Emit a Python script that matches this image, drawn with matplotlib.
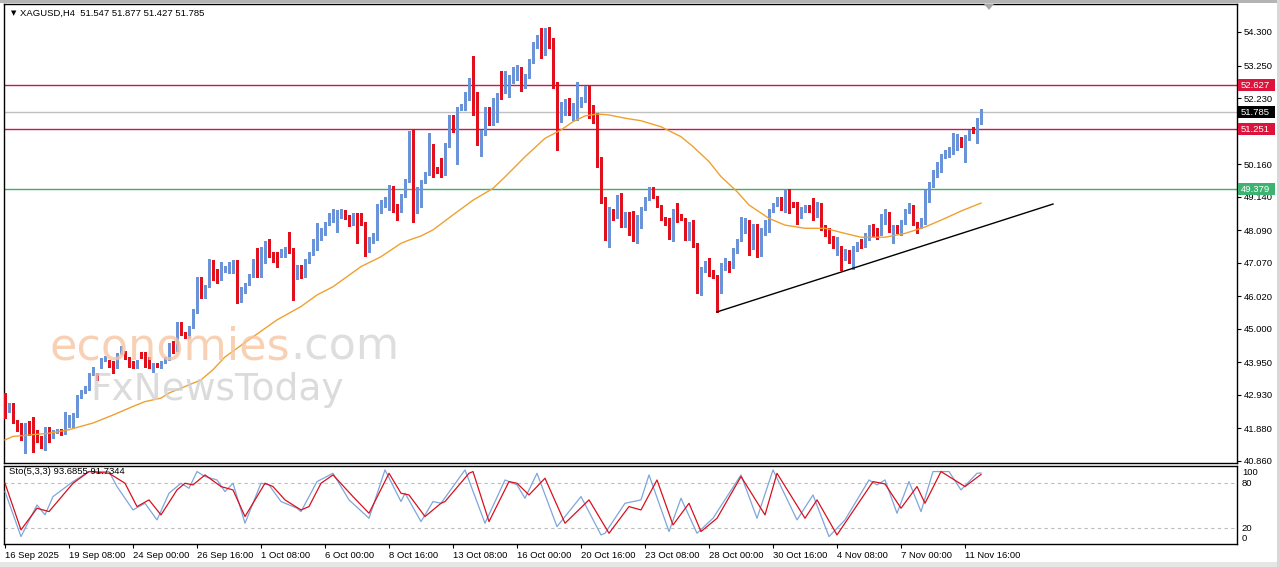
import matplotlib
matplotlib.use("Agg")
import matplotlib.pyplot as plt
from matplotlib.patches import Rectangle, Polygon
import matplotlib.transforms as mtransforms

# XAGUSD H4 candles (bar 0 = first visible bar)
opens = [42.93, 42.46, 42.62, 42.12, 41.99, 41.55, 42.05, 41.92, 41.73, 41.58,
         41.34, 41.89, 41.71, 41.78, 41.81, 41.75, 42.20, 42.25, 42.28, 42.88,
         43.07, 43.11, 43.61, 43.56, 43.80, 44.03, 44.00, 43.92, 43.80, 44.24,
         44.24, 44.10, 43.95, 43.79, 44.18, 44.13, 44.08, 43.82, 43.92, 43.82,
         43.95, 44.08, 44.50, 44.34, 45.18, 44.84, 44.76, 45.07, 45.59, 46.58,
         46.13, 46.32, 46.86, 46.84, 46.58, 46.82, 46.90, 47.03, 47.10, 45.88,
         46.13, 46.43, 46.63, 47.16, 46.98, 47.31, 47.60, 47.37, 47.35, 47.29,
         47.42, 47.47, 47.47, 46.58, 46.98, 46.90, 47.10, 47.35, 47.68, 47.81,
         47.97, 48.31, 48.49, 48.57, 48.60, 48.64, 48.54, 48.28, 48.60, 48.33,
         48.33, 47.60, 47.73, 47.81, 48.67, 48.93, 49.02, 49.43, 48.85, 48.69,
         49.16, 49.64, 50.00, 48.83, 49.24, 49.58, 49.85, 50.08, 50.03, 50.08,
         49.87, 50.76, 51.65, 51.28, 51.87, 51.91, 52.35, 52.77, 52.38, 51.02,
         51.12, 51.91, 51.44, 52.17, 52.64, 52.43, 52.56, 52.74, 53.05, 53.16,
         52.61, 52.90, 53.37, 53.89, 54.22, 53.63, 54.41, 53.86, 52.69, 51.52,
         51.75, 52.11, 51.75, 51.96, 52.01, 52.17, 52.56, 51.70, 51.49, 50.18,
         48.98, 48.46, 48.72, 48.51, 49.16, 48.30, 48.56, 48.61, 47.78, 48.20,
         48.77, 49.09, 49.40, 49.14, 48.85, 48.46, 48.41, 48.00, 48.62, 48.56,
         48.41, 48.09, 48.36, 47.68, 46.22, 46.85, 46.87, 46.74, 46.64, 46.22,
         46.93, 47.08, 46.93, 47.42, 47.80, 48.09, 48.30, 47.70, 48.20, 47.32,
         48.00, 48.09, 48.72, 48.90, 49.09, 48.93, 49.19, 48.93, 48.93, 48.62,
         48.72, 48.83, 48.88, 48.62, 48.88, 48.20, 48.05, 47.84, 47.58, 47.52,
         47.26, 47.42, 46.95, 47.52, 47.68, 47.58, 47.83, 48.20, 48.09, 47.99,
         48.36, 48.62, 47.99, 48.20, 47.99, 48.36, 48.67, 48.83, 48.30, 48.20,
         48.36, 49.03, 49.51, 49.82, 49.97, 50.39, 50.44, 50.60, 50.70, 50.96,
         50.81, 50.96, 51.28, 51.18, 51.547]
highs = [42.98, 42.67, 42.67, 42.15, 42.05, 42.05, 42.10, 42.23, 41.84, 41.63,
         41.94, 41.94, 41.84, 41.86, 41.86, 42.38, 42.30, 42.36, 42.93, 43.09,
         43.21, 43.63, 43.80, 43.61, 44.08, 44.16, 44.03, 43.98, 44.24, 44.45,
         44.30, 44.13, 44.00, 44.03, 44.26, 44.26, 44.13, 43.94, 43.94, 44.00,
         44.13, 44.55, 44.62, 45.22, 45.22, 44.90, 45.10, 45.62, 46.62, 46.63,
         46.37, 47.18, 47.16, 46.89, 47.10, 46.97, 47.10, 47.16, 47.16, 46.32,
         46.45, 46.72, 47.20, 47.52, 47.57, 47.75, 47.83, 47.42, 47.42, 47.49,
         47.55, 48.04, 47.52, 47.00, 47.00, 47.20, 47.42, 47.80, 48.33, 48.15,
         48.36, 48.62, 48.74, 48.72, 48.74, 48.72, 48.57, 48.64, 48.62, 48.62,
         48.36, 47.87, 48.01, 48.91, 49.04, 49.12, 49.51, 49.47, 48.91, 49.22,
         49.69, 51.21, 51.25, 49.43, 49.66, 49.92, 51.12, 50.79, 50.08, 50.34,
         50.83, 51.70, 51.70, 51.96, 52.04, 52.41, 52.85, 53.55, 52.43, 51.23,
         51.94, 51.94, 52.22, 52.40, 53.09, 53.09, 52.95, 53.21, 53.26, 53.21,
         52.98, 53.44, 53.99, 54.20, 54.41, 54.44, 54.46, 54.10, 52.74, 52.11,
         52.19, 52.22, 52.06, 52.74, 52.27, 52.61, 52.64, 52.01, 51.75, 50.39,
         49.14, 48.82, 48.77, 49.20, 49.26, 48.65, 48.66, 48.70, 48.56, 48.82,
         49.12, 49.45, 49.45, 49.16, 48.88, 48.51, 48.46, 48.77, 48.93, 48.60,
         48.46, 48.36, 48.41, 47.70, 46.95, 47.11, 47.21, 46.85, 46.69, 47.06,
         47.21, 47.11, 47.52, 47.83, 48.51, 48.46, 48.41, 48.30, 48.30, 48.15,
         48.41, 48.77, 48.93, 49.12, 49.14, 49.35, 49.37, 48.98, 48.98, 48.82,
         48.88, 48.88, 49.09, 48.98, 48.93, 48.25, 48.15, 47.90, 47.89, 47.60,
         47.50, 47.47, 47.60, 47.73, 47.80, 47.99, 48.25, 48.30, 48.15, 48.60,
         48.77, 48.67, 48.25, 48.25, 48.41, 48.77, 48.93, 48.88, 48.36, 48.46,
         49.35, 49.61, 49.97, 50.24, 50.49, 50.60, 50.70, 51.12, 51.10, 51.02,
         51.07, 51.23, 51.33, 51.59, 51.877]
lows = [42.20, 42.41, 42.05, 41.79, 41.52, 41.11, 41.68, 41.13, 41.47, 41.26,
        41.21, 41.47, 41.58, 41.74, 41.68, 41.71, 41.94, 41.94, 42.25, 42.83,
        42.99, 43.09, 43.55, 43.40, 43.77, 43.98, 43.82, 43.61, 43.77, 44.22,
        44.05, 43.82, 43.77, 43.77, 44.08, 43.82, 43.77, 43.66, 43.80, 43.77,
        43.92, 44.03, 44.24, 44.30, 44.80, 44.70, 44.70, 45.03, 45.50, 45.96,
        45.96, 46.30, 46.53, 46.43, 46.53, 46.79, 46.74, 46.74, 45.80, 45.85,
        46.11, 46.37, 46.61, 46.63, 46.63, 47.05, 47.24, 47.10, 46.95, 47.26,
        47.26, 47.37, 45.90, 46.55, 46.58, 46.63, 47.07, 47.31, 47.47, 47.78,
        47.94, 48.25, 48.36, 48.04, 48.46, 48.43, 48.22, 48.25, 47.68, 48.25,
        47.29, 47.42, 47.70, 47.78, 48.62, 48.83, 48.72, 48.67, 48.41, 48.67,
        49.14, 49.61, 48.36, 48.62, 48.83, 49.56, 49.82, 49.77, 49.87, 49.77,
        49.82, 50.71, 51.18, 50.18, 51.85, 51.85, 52.17, 51.70, 50.76, 50.41,
        51.07, 51.38, 51.38, 51.49, 52.19, 52.38, 52.27, 52.69, 52.79, 52.46,
        52.56, 52.85, 53.32, 53.79, 53.47, 53.58, 53.79, 52.56, 50.60, 51.49,
        51.70, 51.70, 51.54, 51.54, 51.96, 52.11, 51.59, 51.46, 50.08, 48.93,
        47.78, 47.55, 48.41, 48.46, 48.20, 48.20, 47.95, 47.75, 47.70, 48.15,
        48.72, 49.04, 49.09, 48.82, 48.41, 48.25, 47.80, 47.75, 48.36, 48.41,
        47.78, 47.78, 47.55, 46.11, 46.06, 46.79, 46.64, 46.58, 45.54, 46.11,
        46.85, 46.79, 46.90, 47.37, 47.75, 47.99, 47.30, 47.50, 47.25, 47.28,
        47.95, 48.04, 48.67, 48.85, 48.72, 48.67, 48.62, 48.82, 48.30, 48.46,
        48.67, 48.67, 48.41, 48.51, 48.09, 47.90, 47.70, 47.52, 47.32, 46.85,
        47.16, 47.06, 46.87, 47.45, 47.52, 47.55, 47.78, 47.90, 47.80, 47.94,
        48.30, 48.04, 47.68, 47.99, 47.95, 48.30, 48.62, 48.25, 47.99, 48.15,
        48.30, 48.98, 49.45, 49.77, 49.92, 50.34, 50.39, 50.49, 50.60, 50.70,
        50.24, 50.91, 51.12, 50.83, 51.427]
closes = [42.25, 42.57, 42.10, 41.99, 41.55, 42.02, 41.92, 41.63, 41.58, 41.31,
          41.92, 41.68, 41.81, 41.81, 41.73, 42.20, 42.25, 42.30, 42.91, 43.02,
          43.14, 43.61, 43.72, 43.51, 44.03, 44.10, 43.87, 43.77, 44.00, 44.37,
          44.13, 43.95, 43.79, 44.00, 44.13, 43.98, 43.82, 43.92, 43.82, 43.95,
          44.08, 44.50, 44.34, 45.18, 44.84, 44.76, 45.07, 45.59, 46.59, 46.06,
          46.32, 46.86, 46.58, 46.58, 46.84, 46.92, 47.05, 47.10, 45.85, 46.16,
          46.43, 46.67, 47.16, 47.00, 47.35, 47.60, 47.31, 47.29, 47.29, 47.45,
          47.49, 47.44, 46.58, 46.98, 46.90, 47.14, 47.39, 47.71, 47.83, 47.97,
          48.33, 48.51, 48.60, 48.62, 48.64, 48.46, 48.25, 48.60, 48.31, 48.28,
          47.60, 47.83, 47.97, 48.67, 48.95, 49.06, 49.43, 48.85, 48.69, 49.19,
          49.66, 50.00, 48.83, 49.30, 49.61, 49.87, 50.13, 49.82, 49.95, 49.97,
          50.79, 51.65, 51.23, 51.91, 51.96, 52.35, 52.79, 52.32, 51.02, 51.14,
          51.91, 51.42, 52.17, 52.32, 52.27, 52.79, 52.79, 53.11, 53.16, 52.50,
          52.90, 53.42, 53.96, 54.17, 53.65, 54.38, 53.84, 52.64, 51.52, 51.96,
          52.11, 51.75, 52.01, 52.32, 52.22, 52.38, 51.65, 51.49, 50.16, 48.98,
          48.56, 48.77, 48.51, 49.14, 48.51, 48.61, 48.09, 48.09, 48.51, 48.77,
          49.09, 49.40, 49.14, 48.88, 48.46, 48.36, 47.83, 48.70, 48.46, 48.51,
          47.99, 48.28, 47.63, 46.22, 46.87, 47.06, 46.74, 46.64, 46.17, 46.95,
          47.08, 46.82, 47.47, 47.79, 48.46, 48.41, 47.46, 48.30, 47.30, 48.10,
          48.36, 48.72, 48.88, 49.09, 48.93, 49.14, 48.72, 48.88, 48.62, 48.77,
          48.83, 48.74, 48.46, 48.93, 48.20, 47.99, 47.78, 47.63, 47.78, 47.06,
          47.42, 47.11, 47.52, 47.68, 47.58, 47.89, 48.20, 47.99, 47.90, 48.36,
          48.67, 48.09, 48.20, 48.04, 48.36, 48.72, 48.83, 48.30, 48.09, 48.41,
          49.03, 49.56, 49.92, 50.18, 50.44, 50.55, 50.65, 50.91, 50.96, 50.81,
          51.02, 51.18, 51.18, 51.54, 51.785]

# moving average (orange), read at a set of bars
ma_bars = [0, 2, 11, 16, 22, 27, 32, 35, 39, 41, 44, 49, 52, 55, 62, 68, 74, 78,
           82, 89, 94, 99, 101, 104, 107, 112, 117, 122, 125, 130, 135, 139, 142,
           145, 148, 151, 155, 159, 164, 169, 172, 176, 179, 183, 186, 191, 195,
           200, 205, 210, 214, 220, 225, 230, 235, 239, 244]
ma_vals = [41.52, 41.63, 41.73, 41.84, 42.05, 42.30, 42.57, 42.72, 42.83, 42.99,
           43.14, 43.40, 43.72, 44.12, 44.75, 45.28, 45.70, 46.06, 46.32, 46.95,
           47.26, 47.68, 47.78, 47.91, 48.10, 48.57, 49.03, 49.40, 49.76, 50.39,
           50.97, 51.23, 51.49, 51.67, 51.73, 51.70, 51.60, 51.52, 51.33, 51.02,
           50.71, 50.24, 49.77, 49.30, 48.88, 48.46, 48.25, 48.15, 48.15, 47.99,
           47.87, 47.87, 47.99, 48.19, 48.46, 48.69, 48.94]

# Sto(5,3,3): main (%K) and signal (%D) turning points
k_bars = [0, 4, 8, 10, 12, 17, 21, 26, 28, 32, 35, 38, 41, 44, 46, 48, 50, 53,
          55, 57, 60, 64, 66, 69, 73, 74, 78, 82, 86, 91, 95, 99, 100, 104, 107,
          109, 115, 120, 125, 128, 130, 133, 138, 142, 144, 149, 150, 155, 159,
          161, 166, 169, 173, 177, 184, 188, 192, 198, 202, 206, 210, 216, 218,
          220, 223, 226, 229, 232, 236, 239, 243, 244]
k_vals = [68.9, 8.9, 51.1, 37.8, 62.2, 82.2, 95.6, 95.6, 75.6, 44.4, 53.3, 31.1,
          66.7, 80.0, 73.3, 95.6, 88.9, 84.4, 68.9, 80.0, 26.7, 80.0, 77.8, 55.6,
          46.7, 42.2, 82.2, 93.3, 57.8, 33.3, 97.8, 55.6, 66.7, 28.9, 55.6, 53.3,
          97.8, 26.7, 84.4, 77.8, 60.0, 93.3, 22.2, 48.9, 62.2, 11.1, 13.3, 53.3,
          57.8, 91.1, 15.6, 60.0, 13.3, 33.3, 91.1, 33.3, 97.8, 31.1, 64.4, 8.9,
          31.1, 84.4, 77.8, 84.4, 40.0, 82.2, 42.2, 95.6, 95.6, 71.1, 93.3, 93.69]
d_bars = [0, 4, 8, 11, 17, 21, 26, 30, 33, 36, 39, 43, 45, 47, 50, 54, 57, 60,
          65, 67, 70, 74, 76, 79, 82, 87, 91, 96, 99, 101, 105, 109, 110, 116,
          117, 121, 126, 128, 131, 135, 140, 146, 151, 156, 159, 163, 167, 171,
          174, 178, 184, 190, 193, 200, 203, 208, 217, 220, 224, 228, 230, 234,
          240, 244]
d_vals = [80.0, 17.8, 46.7, 42.2, 80.0, 95.6, 93.3, 80.0, 48.9, 57.8, 37.8, 71.1,
          80.0, 77.8, 91.1, 75.6, 71.1, 35.6, 80.0, 75.6, 57.8, 44.4, 48.9, 80.0,
          91.1, 62.2, 40.0, 93.3, 66.7, 64.4, 35.6, 53.3, 55.6, 93.3, 95.6, 28.9,
          82.2, 80.0, 64.4, 86.7, 26.7, 57.8, 13.3, 48.9, 44.4, 84.4, 24.4, 53.3,
          15.6, 33.3, 88.9, 37.8, 93.3, 33.3, 57.8, 11.1, 82.2, 79.1, 46.7, 75.6,
          53.3, 95.6, 75.6, 91.73]

levels = [52.627, 51.251, 49.379]
level_colors = ['#C8174D', '#C8174D', '#3DAE6E']
label_colors = ['#DC143C', '#DC143C', '#3CB371']
bid = 51.785

trend_bars = [178, 262]
trend_vals = [45.53, 48.91]

# 51.210 sits under the 51.251 box in the screenshot, so it is left out
price_ticks = [54.30, 53.25, 52.23, 50.16, 49.14, 48.09, 47.07, 46.02,
               45.00, 43.95, 42.93, 41.88, 40.86]
time_ticks = [0, 16, 32, 48, 64, 80, 96, 112, 128, 144, 160, 176, 192, 208, 224, 240]
time_labels = ['16 Sep 2025', '19 Sep 08:00', '24 Sep 00:00', '26 Sep 16:00',
               '1 Oct 08:00', '6 Oct 00:00', '8 Oct 16:00', '13 Oct 08:00',
               '16 Oct 00:00', '20 Oct 16:00', '23 Oct 08:00', '28 Oct 00:00',
               '30 Oct 16:00', '4 Nov 08:00', '7 Nov 00:00', '11 Nov 16:00']

BULL = '#6A93D8'
BEAR = '#E0101C'
FONT = 'Liberation Sans'
FS = 6.8

W, H = 1280, 567
fig = plt.figure(figsize=(W / 100, H / 100), dpi=100)
fig.patch.set_facecolor('white')

ax = fig.add_axes([4 / W, 1 - 463 / H, 1233 / W, 459 / H])
ax2 = fig.add_axes([4 / W, 1 - 544 / H, 1233 / W, 78 / H])
xlim = (-0.25, 308)

# candles
x = list(range(len(opens)))
cols = [BULL if c >= o else BEAR for o, c in zip(opens, closes)]
ax.vlines(x, lows, highs, colors=cols, linewidth=1.0, zorder=3, antialiased=False)
bottoms = [min(o, c) for o, c in zip(opens, closes)]
heights = [max(abs(c - o), 0.03) for o, c in zip(opens, closes)]
ax.bar(x, heights, bottom=bottoms, width=0.7, color=cols, linewidth=0,
       zorder=4, antialiased=False)

ax.plot(ma_bars, ma_vals, color='#F0A030', linewidth=1.0, zorder=5)
ax.plot(trend_bars, trend_vals, color='black', linewidth=1.0, zorder=5)

for lv, lc in zip(levels, level_colors):
    ax.axhline(lv, color=lc, linewidth=1.0, zorder=2)
ax.axhline(bid, color='#C0C0C0', linewidth=1.0, zorder=2)

ax.set_xlim(*xlim)
ax.set_ylim(40.797, 55.177)
ax.set_xticks([])
ax.yaxis.tick_right()
ax.set_yticks(price_ticks)
ax.set_yticklabels(['%.3f' % t for t in price_ticks], fontsize=FS, family=FONT)
ax.tick_params(axis='y', length=3, width=0.8, pad=2, color='black')
for s in ax.spines.values():
    s.set_linewidth(1.0)
    s.set_color('black')

# price boxes on the right axis
fig.canvas.draw()
for val, bc in [(levels[0], label_colors[0]), (bid, '#000000'),
                (levels[1], label_colors[1]), (levels[2], label_colors[2])]:
    yd = ax.transData.transform((0, val))[1]
    fig.add_artist(Rectangle((1238 / W, (yd - 6) / H), 37 / W, 12 / H,
                             transform=fig.transFigure, facecolor=bc,
                             edgecolor='none', zorder=10))
    fig.text(1241 / W, yd / H, '%.3f' % val, color='white', fontsize=FS,
             family=FONT, va='center', ha='left', zorder=11)

# stochastic window
ax2.plot(k_bars, k_vals, color='#7FA6DA', linewidth=0.9, zorder=3)
ax2.plot(d_bars, d_vals, color='#D8101E', linewidth=0.9, zorder=4)
for lv in (20, 80):
    ax2.axhline(lv, color='#BDBDBD', linewidth=0.8, linestyle=(0, (3, 3)), zorder=1)
ax2.set_xlim(*xlim)
ax2.set_ylim(-1, 103)
ax2.set_yticks([])
ax2.set_xticks(time_ticks)
ax2.set_xticklabels(time_labels, fontsize=FS, family=FONT, ha='left')
ax2.tick_params(axis='x', length=3, width=0.8, pad=2)
for s in ax2.spines.values():
    s.set_linewidth(1.0)
    s.set_color('black')
side = mtransforms.blended_transform_factory(ax2.transAxes, ax2.transData)
for lab, v, va in [('100', 100, 'top'), ('80', 80, 'center'),
                   ('20', 20, 'center'), ('0', 0, 'bottom')]:
    ax2.text(1.004, v, lab, transform=side, fontsize=FS, family=FONT, va=va, ha='left')
ax2.text(5 / 1233, 96, 'Sto(5,3,3) 93.6855 91.7344', transform=side,
         fontsize=FS, family=FONT, va='center', ha='left', zorder=6)

# header
fig.text(11 / W, 1 - 13 / H, '\u25BC', fontsize=5, family='DejaVu Sans', va='center', ha='left')
fig.text(20 / W, 1 - 13 / H, 'XAGUSD,H4  51.547 51.877 51.427 51.785',
         fontsize=FS, family=FONT, va='center', ha='left')

# watermark
t1 = fig.text(50 / W, 1 - 360 / H, 'economies', fontsize=32, family='DejaVu Sans',
              color='#F7C6A3', alpha=0.8, va='baseline', ha='left', zorder=20)
ext = t1.get_window_extent(renderer=fig.canvas.get_renderer())
fig.text(ext.x1 / W, 1 - 360 / H, '.com', fontsize=32, family='DejaVu Sans',
         color='#D6D6D6', alpha=0.8, va='baseline', ha='left', zorder=20)
fig.text(90 / W, 1 - 400 / H, 'FxNewsToday', fontsize=27, family='DejaVu Sans',
         color='#D3D3D3', alpha=0.8, va='baseline', ha='left', zorder=20)

# window chrome
fig.add_artist(Rectangle((0, 1 - 3 / H), 1, 3 / H, transform=fig.transFigure,
                         facecolor='#B4B4B4', edgecolor='none', zorder=0))
fig.add_artist(Rectangle((0, 0), 1, 5 / H, transform=fig.transFigure,
                         facecolor='#E6E6E6', edgecolor='none', zorder=0))
fig.add_artist(Rectangle((1 - 3 / W, 0), 3 / W, 1, transform=fig.transFigure,
                         facecolor='#D8D8D8', edgecolor='none', zorder=0))
fig.add_artist(Polygon([[984 / W, 1 - 4 / H], [994 / W, 1 - 4 / H], [989 / W, 1 - 10 / H]],
                       closed=True, transform=fig.transFigure, facecolor='#A8A8A8',
                       edgecolor='none', zorder=12))

fig.savefig('out.png', dpi=100)
